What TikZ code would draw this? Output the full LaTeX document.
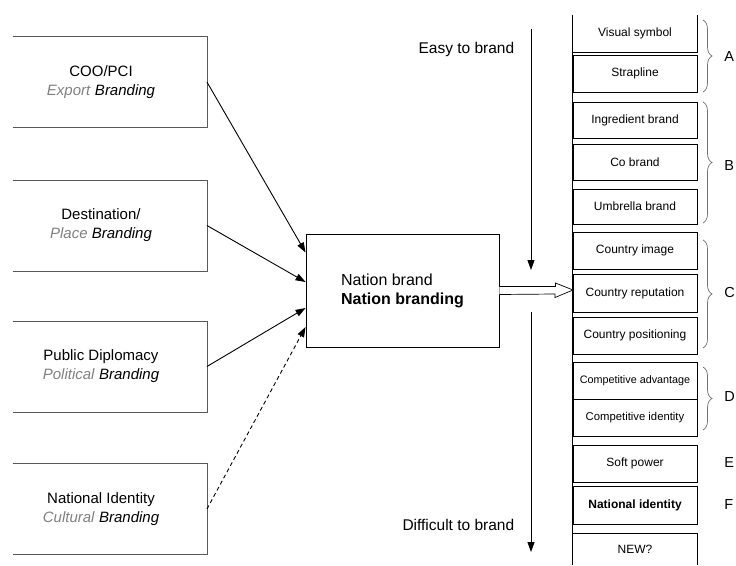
\documentclass[tikz,border=0pt]{standalone}
\usepackage{fontspec}
\setmainfont{Liberation Sans}
\usetikzlibrary{arrows.meta,calc,decorations.pathreplacing}
\definecolor{labelgray}{gray}{0.5}
\definecolor{bracegray}{gray}{0.45}

\begin{document}
\begin{tikzpicture}[x=1pt,y=-1pt,>={Triangle[length=10pt,width=7pt]},line width=0.9pt]
\tikzstyle{source}=[minimum width=211pt,minimum height=90pt,inner sep=0pt,align=center,font=\fontsize{15}{19}\selectfont]
\tikzstyle{item}=[draw,minimum width=124pt,inner sep=0pt,font=\fontsize{12}{14}\selectfont]
\tikzstyle{itemopen}=[item,draw=none]
\tikzstyle{brandscale}=[anchor=east,font=\fontsize{15.5}{18}\selectfont]
\tikzstyle{letter}=[anchor=west,inner sep=0pt,font=\fontsize{14.5}{17}\selectfont]
\tikzstyle{grp}=[draw=bracegray,line width=0.7pt,decorate,decoration={brace,amplitude=9pt}]

\useasboundingbox (0,0) rectangle (736,565);

% forms of branding
\node[source] (coo)  at (101,82)    {COO/PCI\\\textcolor{labelgray}{\textit{Export}} \textit{Branding}};
\node[source] (dest) at (101,225.5) {Destination/\\\textcolor{labelgray}{\textit{Place}} \textit{Branding}};
\node[source] (pub)  at (101,366.5) {Public Diplomacy\\\textcolor{labelgray}{\textit{Political}} \textit{Branding}};
\node[source] (nat)  at (101,509)   {National Identity\\\textcolor{labelgray}{\textit{Cultural}} \textit{Branding}};
\foreach \b in {coo,dest,pub,nat}
  \draw[black!65] ([xshift=17.5pt]\b.north west) -- (\b.north east) -- (\b.south east) -- ([xshift=17.5pt]\b.south west);

\node[draw,minimum width=193pt,minimum height=113pt,align=left,font=\fontsize{16}{19}\selectfont] (nb) at (402.5,290.5)
  {Nation brand\\\textbf{Nation branding}};

\path[->]
(coo.east)  edge ([yshift=38pt]nb.west)
(dest.east) edge ([yshift=8.5pt]nb.west)
(pub.east)  edge ([yshift=-17.5pt]nb.west)
(nat.east)  edge[dash pattern=on 4pt off 3pt] ([yshift=-36.5pt]nb.west);

% easy / difficult scale
\coordinate (easytop) at (531,29);
\coordinate (easyend) at (531,270);
\coordinate (hardtop) at (531,312);
\coordinate (hardend) at (531,552);
\draw[->] (easytop) -- (easyend);
\draw[->] (hardtop) -- (hardend);
\node[brandscale] (easy) at (518,49)  {Easy to brand};
\node[brandscale] (hard) at (518,525) {Difficult to brand};

% right column
\node[itemopen,minimum height=37pt] (vs)  at (635,33.5)  {Visual symbol};
\node[item,minimum height=37pt]     (sl)  at (635,73.5)  {Strapline};
\node[item,minimum height=36pt]     (ib)  at (635,120)   {Ingredient brand};
\node[item,minimum height=36pt]     (cb)  at (635,162)   {Co brand};
\node[item,minimum height=35pt]     (ub)  at (635,206.5) {Umbrella brand};
\node[item,minimum height=37pt]     (ci)  at (635,250.5) {Country image};
\node[item,minimum height=38pt]     (cr)  at (635,293)   {Country reputation};
\node[item,minimum height=37pt]     (cp)  at (635,335.5) {Country positioning};
\node[item,minimum height=37pt,font=\fontsize{10.8}{12}\selectfont] (ca)  at (635,380.5) {Competitive advantage};
\node[item,minimum height=37pt,font=\fontsize{11.3}{13}\selectfont] (cid) at (635,417.5) {Competitive identity};
\node[item,minimum height=37pt]     (sp)  at (635,463.5) {Soft power};
\node[item,minimum height=38pt]     (ni)  at (635,505)   {\textbf{National identity}};
\node[itemopen,minimum height=31pt] (nw)  at (635,549.5) {NEW?};
\draw (vs.north west) -- (nw.south west);
\draw (vs.north west) -- (vs.south west) -- (vs.south east) -- (vs.north east);
\draw (nw.south west) -- (nw.north west) -- (nw.north east) -- (nw.south east);

% hollow arrow
\coordinate (tip) at (573,290);
\draw[fill=white,line width=0.7pt] ([yshift=4pt]nb.east) -- ++(56,0) -- ++(0,-3.5) -- (tip) -- ++(-18,7.5) -- ++(0,-3.5) -- ([yshift=-4pt]nb.east);

% groups
\draw[grp] (703,20) -- (703,92);
\draw[grp] (703,102) -- (703,223);
\draw[grp] (703,240) -- (703,348);
\draw[grp] (703,367) -- (703,430);
\node[letter] (ga) at (724,57)  {A};
\node[letter] (gb) at (724,166) {B};
\node[letter] (gc) at (724,293) {C};
\node[letter] (gd) at (724,397) {D};
\node[letter] (ge) at (724,463) {E};
\node[letter] (gf) at (724,505) {F};
\end{tikzpicture}
\end{document}
